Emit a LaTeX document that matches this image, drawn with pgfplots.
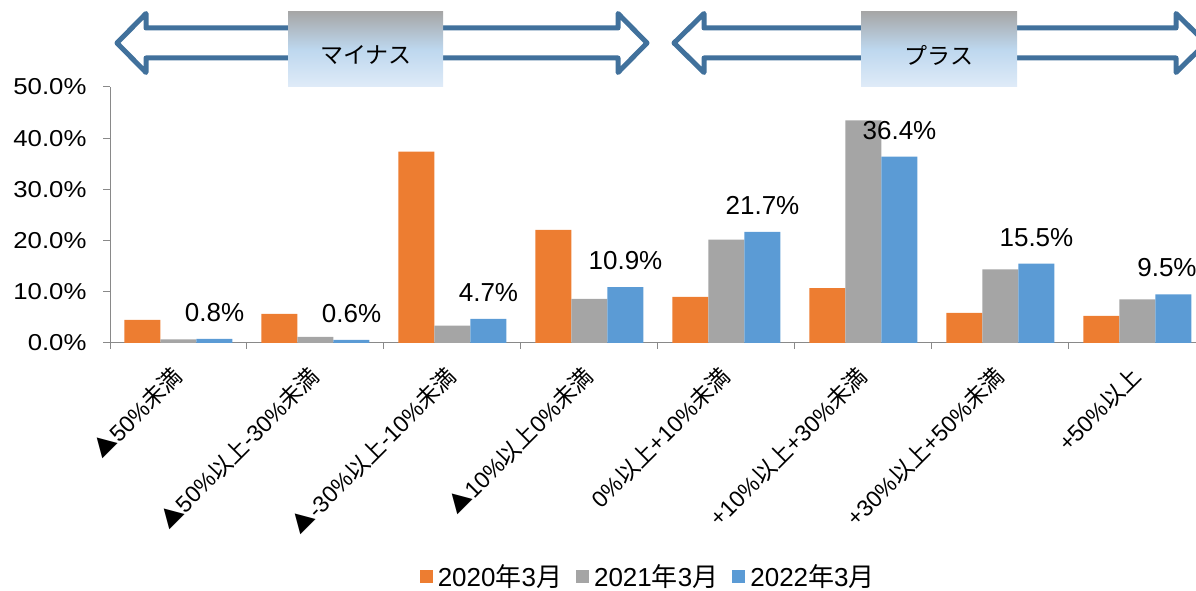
\documentclass[border=0pt]{standalone}
\usepackage{pgfplots}
\pgfplotsset{compat=1.18}
\usepackage{fontspec}
\setmainfont{Liberation Sans}
\newfontfamily\cjk{Noto Sans CJK JP}
\newcommand{\J}[1]{{\cjk #1}}
\definecolor{c20}{HTML}{ED7D31}
\definecolor{c21}{HTML}{A5A5A5}
\definecolor{c22}{HTML}{5B9BD5}
\definecolor{axgray}{HTML}{898989}
\definecolor{arrowblue}{HTML}{41719C}
\definecolor{boxtop}{HTML}{A6A6A6}
\definecolor{boxmid}{HTML}{BDD7EE}
\definecolor{boxbot}{HTML}{DFEBF8}

% double block arrow: left tip, left barb, right barb, right tip (px), centre y
\newcommand{\dblarrow}[5]{%
  \draw[arrowblue, fill=white, line width=5pt, line join=round]
    (#1,#5) -- (#2,#5+29.5) -- (#2,#5+15) -- (#3,#5+15) -- (#3,#5+29.5)
    -- (#4,#5) -- (#3,#5-29.5) -- (#3,#5-15) -- (#2,#5-15) -- (#2,#5-29.5) -- cycle;}
\newcommand{\gradbox}[4]{%
  \shade[top color=boxtop, bottom color=boxbot, middle color=boxmid]
    (#1,504.5) rectangle (#2,579.5);
  \node[font=\cjk\fontsize{23}{28}\selectfont, inner sep=0pt] at (#3,536) {#4};}

\begin{document}
\begin{tikzpicture}[x=1pt,y=1pt]
\useasboundingbox (0,0) rectangle (1196,591);
\begin{axis}[
  at={(110pt,248pt)}, anchor=south west,
  scale only axis, width=1086pt, height=256pt,
  xmin=-0.5, xmax=7.427, ymin=0, ymax=50,
  ybar=0pt, bar width=36pt,
  axis x line*=bottom, axis y line*=left,
  axis line style={draw=axgray, line width=1pt, -},
  tick style={draw=axgray, line width=1pt},
  tick align=outside,
  major tick length=7pt, minor tick length=6pt,
  xtick={0,...,7}, major x tick style={draw=none},
  minor xtick={-0.5,0.5,...,7.5},
  xticklabels={
    {\J{▲}50\%\J{未満}},
    {\J{▲}50\%\J{以上}-30\%\J{未満}},
    {\J{▲}-30\%\J{以上}-10\%\J{未満}},
    {\J{▲}10\%\J{以上}0\%\J{未満}},
    {0\%\J{以上}+10\%\J{未満}},
    {+10\%\J{以上}+30\%\J{未満}},
    {+30\%\J{以上}+50\%\J{未満}},
    {+50\%\J{以上}}},
  xticklabel style={xshift=-8pt, yshift=-14.5pt, rotate=45,
    anchor=north east, inner sep=0pt, font=\fontsize{23}{27}\selectfont},
  ytick={0,10,...,50},
  yticklabel={\scalebox{1.12}[1]{\pgfmathprintnumber[fixed,fixed zerofill,precision=1]{\tick}\%}},
  yticklabel style={font=\fontsize{23}{27}\selectfont, xshift=-13pt},
  /pgf/number format/assume math mode=true,
  legend columns=3,
  legend image code/.code={\fill[#1] (0pt,-6.5pt) rectangle (13pt,6.5pt);},
  legend style={draw=none, fill=none, at={(0.497,-0.912)}, anchor=center,
    font=\fontsize{26}{30}\selectfont,
    nodes={inner xsep=5pt, inner ysep=1pt},
    /tikz/every even column/.append style={column sep=9pt}},
  legend cell align=left,
]
\addplot[fill=c20, draw=none] coordinates {
  (0,4.5) (1,5.7) (2,37.4) (3,22.1) (4,9.0) (5,10.7) (6,5.9) (7,5.3)};
\addplot[fill=c21, draw=none] coordinates {
  (0,0.7) (1,1.2) (2,3.4) (3,8.6) (4,20.2) (5,43.5) (6,14.4) (7,8.5)};
\addplot[fill=c22, draw=none,
  point meta=explicit symbolic, nodes near coords,
  every node near coord/.append style={font=\fontsize{26}{30}\selectfont,
    text=black, anchor=south, inner sep=0pt, yshift=17pt}] coordinates {
  (0,0.8) [0.8\%]
  (1,0.6) [0.6\%]
  (2,4.7) [4.7\%]
  (3,10.9) [10.9\%]
  (4,21.7) [21.7\%]
  (5,36.4) [36.4\%]
  (6,15.5) [15.5\%]
  (7,9.5) [9.5\%\hspace*{13pt}]};
\legend{2020\J{年}3\J{月}, 2021\J{年}3\J{月}, 2022\J{年}3\J{月}}
\end{axis}
% top arrows with labels
\dblarrow{117}{146}{618}{647}{548}
\dblarrow{674}{704}{1176}{1206}{548}
\gradbox{288}{443}{366}{マイナス}
\gradbox{861}{1017}{939}{プラス}
\end{tikzpicture}
\end{document}
